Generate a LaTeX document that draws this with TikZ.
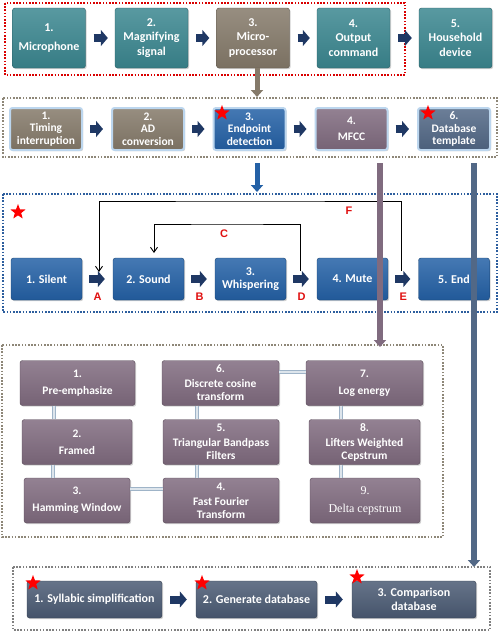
\documentclass[tikz,border=0pt]{standalone}
\usepackage{fontspec}
\setmainfont{Carlito}
\newfontfamily\lblfont{Liberation Sans}
\newfontfamily\deltafont{Liberation Serif}
\usepackage{tikz}
\usetikzlibrary{arrows.meta,shapes.geometric,shadows}
\definecolor{tealbox}{HTML}{3B8790}
\definecolor{brownbox}{HTML}{857A6A}
\definecolor{bluebox}{HTML}{2461A6}
\definecolor{mauvebox}{HTML}{806B7F}
\definecolor{slatebox}{HTML}{526886}
\definecolor{darkslate}{HTML}{4B5B74}
\definecolor{navy}{HTML}{1F3864}
\definecolor{starred}{HTML}{FF0000}
\definecolor{lblred}{HTML}{E01010}
\definecolor{framegray}{HTML}{8E8778}
\definecolor{frameblue}{HTML}{2D5E9E}
\definecolor{pipe}{HTML}{9FB4C8}
\definecolor{glow}{HTML}{BCD6EE}
\tikzset{
  box/.style={rounded corners=2.5pt, draw=#1!70!black, top color=#1!85!white,
    bottom color=#1!92!black, text=white, align=center, inner sep=0pt,
    font=\bfseries\fontsize{12}{14.5}\selectfont,
    drop shadow={opacity=0.35, shadow xshift=1.2pt, shadow yshift=-1.2pt}},
  toprow/.style={minimum width=73pt, minimum height=60pt},
  midrow/.style={minimum width=72pt, minimum height=42pt, draw=glow, line width=2pt,
    font=\bfseries\fontsize{11.5}{12.5}\selectfont},
  staterow/.style={minimum width=71pt, minimum height=42pt, font=\bfseries\fontsize{12}{13.5}\selectfont},
  mfccrow/.style={minimum height=45pt, font=\bfseries\fontsize{11.5}{13}\selectfont},
  lastrow/.style={minimum height=37pt, font=\bfseries\fontsize{12}{14}\selectfont},
  navarrow/.style={draw=navy, line width=8pt, -{Triangle[length=7pt,width=16pt]}},
  vbar/.style={draw=#1, line width=5pt, -{Triangle[length=7pt,width=12pt]}},
  pipeline/.style={draw=pipe, double=pipe!35!white, double distance=2pt, line width=1pt},
  redframe/.style={draw=starred!85!black, line width=1.6pt, dash pattern=on 1.6pt off 1.6pt},
  grayframe/.style={draw=framegray, line width=1.6pt, dash pattern=on 1.6pt off 1.6pt},
  blueframe/.style={draw=frameblue, line width=1.6pt, dash pattern=on 1.6pt off 1.6pt},
  redstar/.style={star, star points=5, star point ratio=2.4, fill=starred, minimum size=16pt, inner sep=0pt},
  lbl/.style={text=lblred, font=\lblfont\bfseries\fontsize{11}{13}\selectfont},
  loopline/.style={draw=black, line width=0.9pt}
}
\begin{document}
\begin{tikzpicture}[x=1pt,y=-1pt]
  \useasboundingbox[fill=white] (0,0) rectangle (503,635);

  % hardware chain
  \draw[redframe] (5,3) rectangle (405,75);
  \node[box=tealbox, toprow] (mic) at (49,38) {1.\\[4pt]Microphone};
  \node[box=tealbox, toprow] (mag) at (151.5,38) {2.\\Magnifying\\signal};
  \node[box=brownbox, toprow] (micro) at (253,38) {3.\\Micro-\\processor};
  \node[box=tealbox, toprow] (outp) at (353.5,38) {4.\\Output\\command};
  \node[box=tealbox, toprow] (house) at (455.5,38) {5.\\Household\\device};
  \foreach \a/\b in {mic/mag, mag/micro, micro/outp, outp/house}
    \draw[navarrow, shorten <=8pt, shorten >=7pt] (\a) -- (\b);

  \coordinate (brownend) at (257,97);
  \draw[vbar=brownbox] ([xshift=4pt]micro.south) -- (brownend);

  % software chain
  \draw[grayframe] (3,98) rectangle (497,157);
  \node[box=brownbox, midrow] (timing) at (46,129) {1.\\Timing\\interruption};
  \node[box=brownbox, midrow] (adc) at (148,129) {2.\\AD\\conversion};
  \node[box=bluebox, midrow] (endp) at (249.5,129) {3.\\Endpoint\\detection};
  \node[box=mauvebox, midrow] (mfcc) at (351.5,129) {4.\\[3pt]MFCC};
  \node[box=slatebox, midrow] (dbt) at (454,129) {6.\\Database\\template};
  \foreach \a/\b in {timing/adc, adc/endp, endp/mfcc, mfcc/dbt}
    \draw[navarrow, shorten <=7pt, shorten >=8pt] (\a) -- (\b);
  \node[redstar] at (222,113) {};
  \node[redstar] at (428,113) {};

  \coordinate (bluestart) at (257,163);
  \coordinate (blueend) at (257,192);
  \draw[vbar=bluebox] (bluestart) -- (blueend);

  % endpoint states
  \draw[blueframe] (3,194) rectangle (497,312);
  \node[redstar] at (18,212) {};
  \node[box=bluebox, staterow] (silent) at (46.5,279) {1. Silent};
  \node[box=bluebox, staterow] (sound) at (148.5,279) {2. Sound};
  \node[box=bluebox, staterow] (whisp) at (250.5,279) {3.\\Whispering};
  \node[box=bluebox, staterow] (mute) at (352.5,279) {4. Mute};
  \node[box=bluebox, staterow] (theend) at (454,279) {5. End};
  \foreach \a/\b/\t in {silent/sound/A, sound/whisp/B, whisp/mute/D, mute/theend/E}
    \draw[navarrow, shorten <=7pt, shorten >=8pt] (\a) -- node[lbl, below=7pt] {\t} (\b);

  \coordinate (cstart) at (300,271);
  \coordinate (cend) at (154,253);
  \draw[loopline, -{Straight Barb[length=5pt,width=7pt]}] (cstart) |- (227,224) -| (cend);
  \node[lbl] at (224,234) {C};
  \coordinate (fstart) at (401,271);
  \coordinate (fend) at (99,272);
  \draw[loopline, -{Straight Barb[length=5pt,width=7pt]}] (fstart) |- (250,201) -| (fend);
  \node[lbl] at (349,211) {F};

  % MFCC steps
  \draw[grayframe] (2,345) rectangle (443,537);
  \node[box=mauvebox, mfccrow, minimum width=115pt] (pre) at (77.5,383) {1.\\[4pt]Pre-emphasize};
  \node[box=mauvebox, mfccrow, minimum width=117pt] (dct) at (220.5,383) {6.\\[2pt]Discrete cosine\\transform};
  \node[box=mauvebox, mfccrow, minimum width=117pt] (loge) at (364.5,383) {7.\\[4pt]Log energy};
  \node[box=mauvebox, mfccrow, minimum width=110pt] (framed) at (77,442) {2.\\[4pt]Framed};
  \node[box=mauvebox, mfccrow, minimum width=116pt] (tri) at (221,442) {5.\\[2pt]Triangular Bandpass\\Filters};
  \node[box=mauvebox, mfccrow, minimum width=111pt] (lift) at (364.5,442) {8.\\[2pt]Lifters Weighted\\Cepstrum};
  \node[box=mauvebox, mfccrow, minimum width=106pt] (hamm) at (77,500.5) {3.\\[4pt]Hamming Window};
  \node[box=mauvebox, mfccrow, minimum width=116pt] (fft) at (221,500.5) {4.\\[2pt]Fast Fourier\\Transform};
  \node[box=mauvebox, mfccrow, minimum width=110pt, font=\deltafont\fontsize{12}{14}\selectfont] (delta) at (365,500.5) {9.\\[4pt]Delta cepstrum};
  \foreach \a/\b in {pre/framed, framed/hamm, dct/tri, tri/fft, loge/lift, lift/delta}
    \draw[pipeline] ([xshift=-24pt]\a.south) -- ([xshift=-24pt]\a.south |- \b.north);
  \draw[pipeline] ([yshift=12pt]hamm.east) -- ([yshift=12pt]hamm.east -| fft.west);
  \draw[pipeline] ([yshift=11pt]dct.east) -- ([yshift=11pt]dct.east -| loge.west);

  \coordinate (mstart) at (380,163);
  \coordinate (mend) at (380,347);
  \draw[vbar=mauvebox, line width=6pt] (mstart) -- (mend);
  \coordinate (sstart) at (474,163);
  \coordinate (send) at (474,567);
  \draw[vbar=slatebox, line width=6pt] (sstart) -- (send);

  % database chain
  \draw[grayframe, draw=gray] (13,567) rectangle (490,630);
  \node[box=darkslate, lastrow, minimum width=135pt] (syll) at (94.5,599.5) {1. Syllabic simplification};
  \node[box=darkslate, lastrow, minimum width=121pt] (gendb) at (256.5,599.5) {2. Generate database};
  \node[box=darkslate, lastrow, minimum width=124pt] (compdb) at (414,599.5) {3. Comparison\\database};
  \foreach \a/\b in {syll/gendb, gendb/compdb}
    \draw[navarrow, shorten <=8pt, shorten >=9pt] (\a) -- (\b);
  \node[redstar] at (33,583) {};
  \node[redstar] at (202,583) {};
  \node[redstar] at (357,577) {};
\end{tikzpicture}
\end{document}
